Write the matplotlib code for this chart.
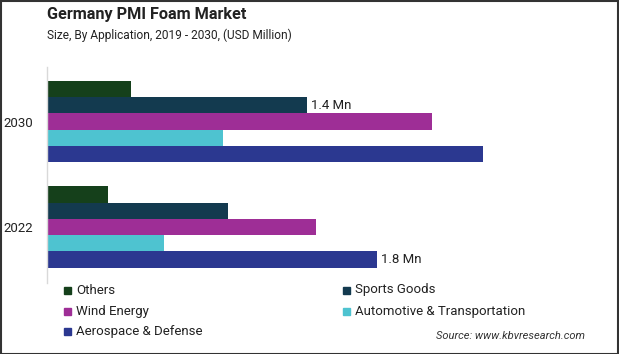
import matplotlib.pyplot as plt
from matplotlib.patches import Rectangle
import numpy as np

plt.rcParams['font.family'] = ['Roboto', 'DejaVu Sans']

# data
years = ['2022', '2030']
series = ['Others', 'Sports Goods', 'Wind Energy', 'Automotive & Transportation', 'Aerospace & Defense']
colors = ['#15401b', '#133a4f', '#9e2e96', '#4ec3d0', '#2b3890']
others = [0.33, 0.46]
sports_goods = [0.99, 1.42]
wind_energy = [1.47, 2.10]
automotive = [0.64, 0.96]
aerospace = [1.80, 2.38]
values = [others, sports_goods, wind_energy, automotive, aerospace]

W, H = 619, 354
fig = plt.figure(figsize=(W / 100, H / 100), dpi=100)

# axes placed in pixel terms
ax = fig.add_axes([47 / W, 1 - 283 / H, 550 / W, 216 / H])

h = 0.1545
y = np.arange(len(years))
offsets = [2 * h, h, 0, -h, -2 * h]
for vals, off, c, name in zip(values, offsets, colors, series):
    ax.barh(y + off, vals, height=h, color=c, label=name)

ax.set_xlim(0, 3.0)
ax.set_ylim(-0.531, 1.517)
ax.set_yticks(y)
ax.set_yticklabels(years, fontsize=9.5, color='#222222')
ax.tick_params(axis='y', length=0, pad=10)
ax.set_xticks([])
for s in ['top', 'right', 'bottom']:
    ax.spines[s].set_visible(False)
ax.spines['left'].set_color('#d9d9d9')
ax.spines['left'].set_linewidth(1)

# value labels
ax.text(sports_goods[1] + 0.02, y[1] + h, '1.4 Mn', va='center', ha='left', fontsize=9.5, color='#222222')
ax.text(aerospace[0] + 0.02, y[0] - 2 * h, '1.8 Mn', va='center', ha='left', fontsize=9.5, color='#222222')

# title
fig.text(47 / W, 1 - 15 / H, 'Germany PMI Foam Market', fontsize=11.7, fontweight='bold', va='center', ha='left', color='#222222')
fig.text(47 / W, 1 - 35 / H, 'Size, By Application, 2019 - 2030, (USD Million)', fontsize=8.6, va='center', ha='left', color='#222222')

# legend, laid out by hand
legend_pos = [(64, 290), (343, 290), (64, 311), (343, 311), (64, 331)]
for (px, py), name, c in zip(legend_pos, series, colors):
    fig.patches.append(Rectangle((px / W, 1 - (py + 3.5) / H), 7 / W, 7 / H,
                                 transform=fig.transFigure, color=c))
    fig.text((px + 12) / W, 1 - py / H, name, fontsize=9.5, va='center', ha='left', color='#222222')

fig.text(585 / W, 1 - 336 / H, 'Source: www.kbvresearch.com', fontsize=8, style='italic',
         va='center', ha='right', color='#333333')

# image border
fig.patches.append(Rectangle((0.5 / W, 0.5 / H), 1 - 1.5 / W, 1 - 1.5 / H, transform=fig.transFigure,
                             fill=False, edgecolor='#333333', linewidth=1.5))

fig.savefig('out.png', dpi=100)
